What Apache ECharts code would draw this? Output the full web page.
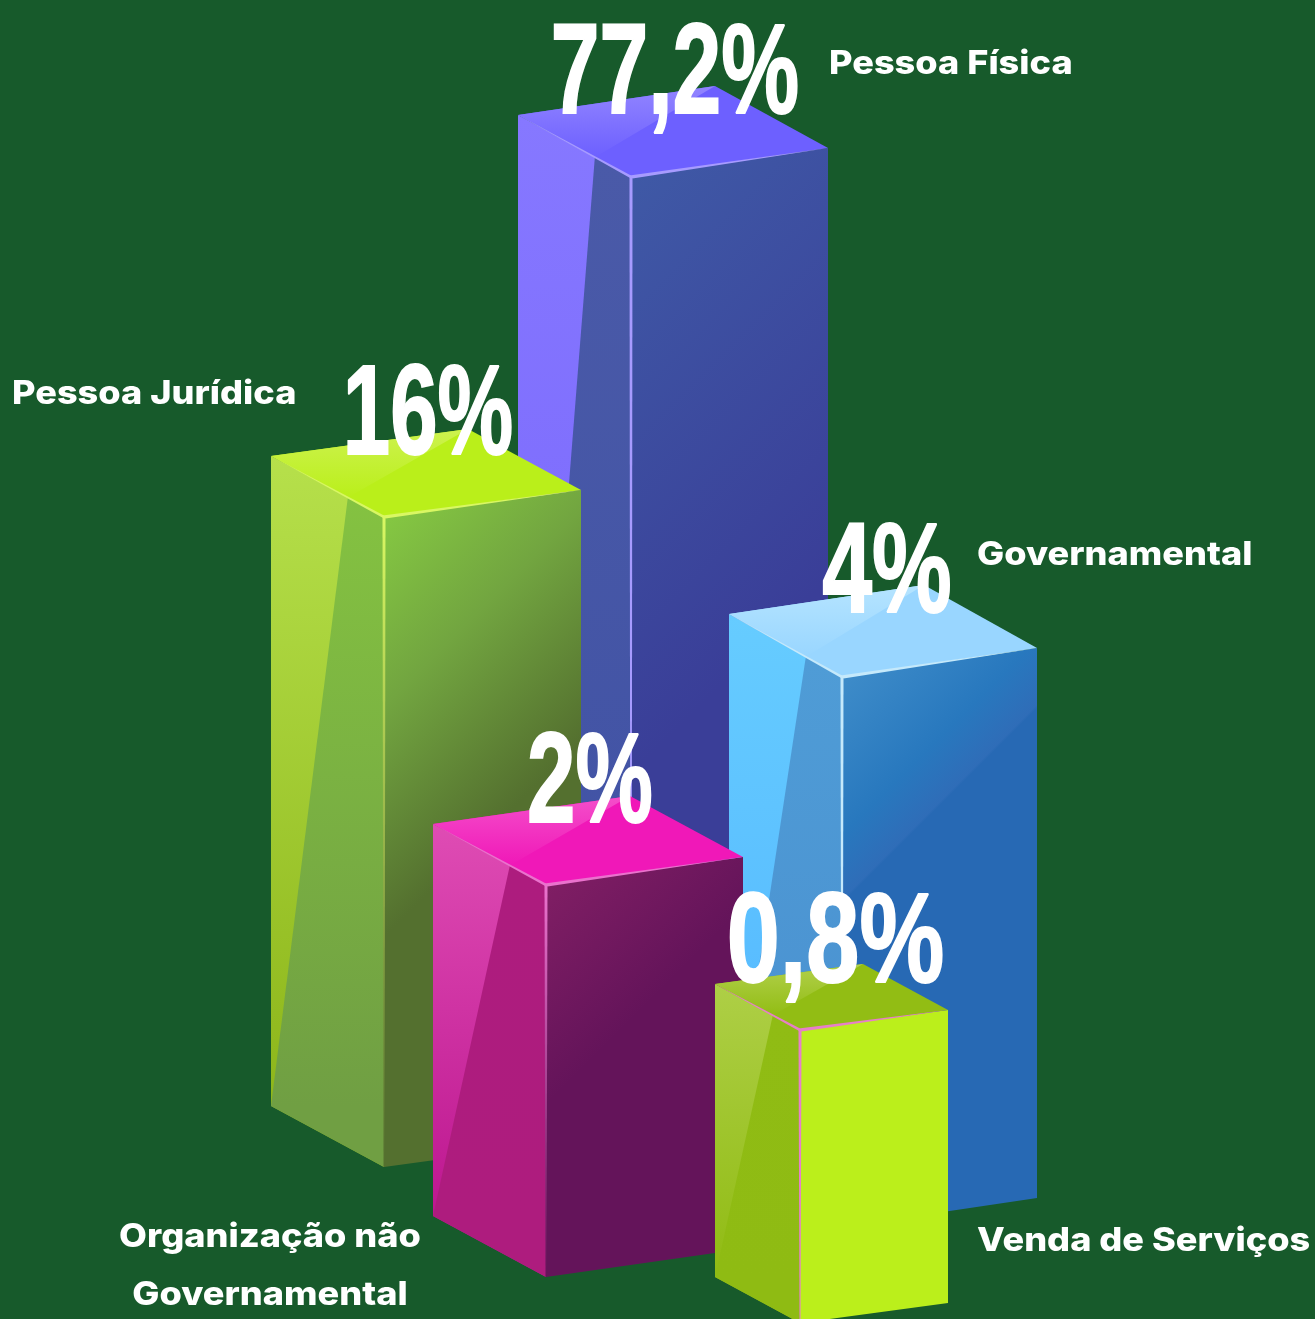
<!DOCTYPE html>
<html><head><meta charset="utf-8">
<style>html,body{margin:0;padding:0;background:#175a2b}#c{width:1315px;height:1319px}</style>
<script src="https://cdn.jsdelivr.net/npm/echarts@6/dist/echarts.min.js"></script>
</head><body><div id="c"></div>
<script>
// ---- data ----
const categories = ['Pessoa Física', 'Pessoa Jurídica', 'Governamental', 'Organização não\nGovernamental', 'Venda de Serviços'];
const percentValues = [77.2, 16, 4, 2, 0.8];
const percentLabels = ['77,2%', '16%', '4%', '2%', '0,8%'];
// the column heights are pictorial (not proportional to the percentages)
const columnHeights = [1012, 650, 550, 392, 293];

// ---- layout (axis units, y upward) ----
const frontX = [631, 384, 842, 546, 800];
const floorLevel = [130, 152, 92, 42, -4];
const depthLeft = [[-113, 62], [-113, 61], [-113, 63], [-113, 61], [-85, 46]];
const depthRight = [[197, 29], [197, 27], [195, 29], [197, 28], [148, 20]];
const nameAnchor = [[829, 1255, 'left'], [12, 925, 'left'], [977, 764, 'left'], [270, 53, 'center'], [977, 78, 'left']];
const percentShift = [2, 2, 4, 2, 4];
const percentStretch = [0.685, 0.665, 0.7, 0.68, 0.745];

// ---- styles ----
const bg = '#175a2b';
const styles = [
  { topBase: '#6d60ff', topLight: '#9285ff', left: ['#8678ff', '#7460fb'], facet: ['#4a5aa8', '#3f51a4'],
    right: [300, [[0, '#3f59a6'], [1, '#3a3e98']]], edge: '#a79bff' },
  { topBase: '#baef1a', topLight: '#cdf24f', left: ['#b6e04b', '#8db61a'], facet: ['#84c241', '#709f43'],
    right: [210, [[0, '#85c842'], [0.45, '#72a540'], [1, '#54702f']]], edge: '#d9f763' },
  { topBase: '#99d6ff', topLight: '#b5e4ff', left: ['#66ccff', '#52b5ff'], facet: ['#4f9cd6', '#4a90d0'],
    right: [113, [[0, '#3e8cc9'], [0.7, '#2878be'], [0.985, '#2f6db8'], [1, '#2769b4']]], edge: '#c5e9fb' },
  { topBase: '#f018b8', topLight: '#f44fca', left: ['#df4cb4', '#bd1790'], facet: ['#ad1c7e', '#ae1c7e'],
    right: [110, [[0, '#801e64'], [1, '#64145a']]], edge: '#ea72cd' },
  { topBase: '#92bd14', topLight: '#b2d04c', left: ['#aecf46', '#90bb13'], facet: ['#90bc14', '#8fbb13'],
    right: [100, [[0, '#bbef1b'], [1, '#bbef1b']]], edge: '#e77fc9' }
];

const linear = (a, b, stops) => ({
  type: 'linear', global: true, x: a[0], y: a[1], x2: b[0], y2: b[1],
  colorStops: stops.map(s => ({ offset: s[0], color: s[1] }))
});
const lerp = (a, b, t) => [a[0] + (b[0] - a[0]) * t, a[1] + (b[1] - a[1]) * t];

function boxCorners(api, i) {
  const fx = api.value(0), floor = api.value(1), h = api.value(2);
  const dl = depthLeft[i], dr = depthRight[i], top = floor + h;
  const P = (x, y) => api.coord([x, y]);
  return {
    F: P(fx, top), L: P(fx + dl[0], top + dl[1]), R: P(fx + dr[0], top + dr[1]),
    B: P(fx + dl[0] + dr[0], top + dl[1] + dr[1]),
    Fb: P(fx, floor), Lb: P(fx + dl[0], floor + dl[1]), Rb: P(fx + dr[0], floor + dr[1])
  };
}

function renderBox(params, api) {
  const i = params.dataIndex, s = styles[i], c = boxCorners(api, i);
  const { F, L, R, B, Fb, Lb, Rb } = c;
  const kink = lerp(L, F, 0.68);
  const poly = (points, fill) => ({ type: 'polygon', silent: true, shape: { points }, style: { fill } });
  const vert = (y1, y2, cols) => linear([0, y1], [0, y2], [[0, cols[0]], [1, cols[1]]]);
  const d = s.right[0];
  return {
    type: 'group',
    children: [
      poly([L, F, Fb, Lb], vert(L[1], Lb[1], s.left)),
      poly([kink, F, Fb, Lb], vert(kink[1], Lb[1], s.facet)),
      poly([F, R, Rb, Fb], linear(F, [F[0] + d, F[1] + d], s.right[1])),
      poly([L, B, R, F], s.topBase),
      poly([L, B, kink], vert(B[1], kink[1], [s.topLight, s.topBase])),
      poly([[L[0], L[1]], [F[0], F[1] - 1.5], [F[0], F[1] + 1.5]], s.edge),
      poly([[F[0] - 1.5, F[1] - 1.5], [R[0], R[1]], [F[0] + 1.5, F[1] + 1.5]], s.edge),
      poly([[F[0] - 1.5, F[1]], [F[0] + 1.5, F[1]], [Fb[0] + 0.5, Fb[1]], [Fb[0] - 0.5, Fb[1]]],
        vert(F[1], Fb[1], [s.edge, i === 1 || i === 3 ? s.right[1][s.right[1].length - 1][1] : s.edge]))
    ]
  };
}

function renderLabels(params, api) {
  const i = params.dataIndex, c = boxCorners(api, i);
  const a = api.coord([nameAnchor[i][0], nameAnchor[i][1]]);
  return {
    type: 'group',
    children: [
      { type: 'text', silent: true, x: (c.L[0] + c.R[0]) / 2 + percentShift[i], y: c.L[1] + 1 - 38, scaleX: percentStretch[i],
        style: { text: percentLabels[i], x: 0, y: 0, align: 'center', verticalAlign: 'middle',
          font: 'bold 128px "Liberation Sans"', fill: '#ffffff', stroke: '#ffffff', lineWidth: 2, lineJoin: 'miter' } },
      { type: 'text', silent: true, x: a[0], y: a[1], scaleX: 1.095,
        style: { text: categories[i], x: 0, y: 0, align: nameAnchor[i][2], verticalAlign: 'middle',
          font: '800 33px Inter, "Open Sans"', lineHeight: 58, fill: '#ffffff' } }
    ]
  };
}

const rows = categories.map((name, i) => ({
  name: name.replace('\n', ' '),
  value: [frontX[i], floorLevel[i], columnHeights[i], percentValues[i]]
}));

const chart = echarts.init(document.getElementById('c'));
chart.setOption({
  backgroundColor: bg,
  animation: false,
  tooltip: { show: false },
  grid: { left: 0, right: 0, top: 0, bottom: 0 },
  xAxis: { type: 'value', min: 0, max: 1315, show: false },
  yAxis: { type: 'value', min: 0, max: 1319, show: false },
  series: [
    { type: 'custom', name: 'Colunas', renderItem: renderBox, data: rows, z: 2, clip: false,
      encode: { x: 0, y: 2 } },
    { type: 'custom', name: 'Rótulos', renderItem: renderLabels, data: rows, z: 5, clip: false,
      encode: { x: 0, y: 2 } }
  ]
});
</script></body></html>
